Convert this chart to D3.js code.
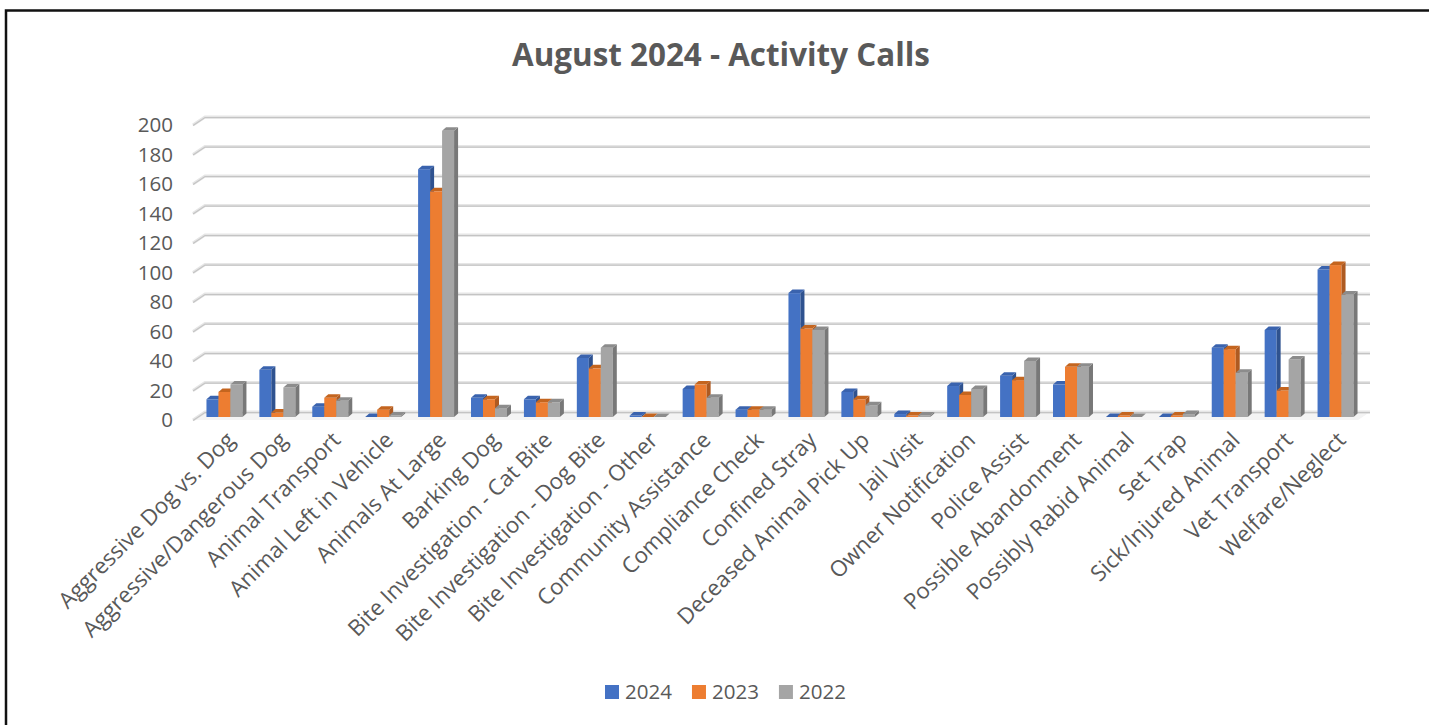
<!DOCTYPE html>
<html><head><meta charset="utf-8">
<script src="https://cdn.jsdelivr.net/npm/d3@7"></script>
<style>
body{margin:0;background:#fff;}
svg{display:block;}
text{font-family:"Open Sans","Noto Sans",sans-serif;fill:#595959;}
</style>
</head><body>
<svg id="c" width="1429" height="725"></svg>
<script>
const titleText = "August 2024 - Activity Calls";
const categories = ["Aggressive Dog vs. Dog","Aggressive/Dangerous Dog","Animal Transport","Animal Left in Vehicle","Animals At Large","Barking Dog","Bite Investigation - Cat Bite","Bite Investigation - Dog Bite","Bite Investigation - Other","Community Assistance","Compliance Check","Confined Stray","Deceased Animal Pick Up","Jail Visit","Owner Notification","Police Assist","Possible Abandonment","Possibly Rabid Animal","Set Trap","Sick/Injured Animal","Vet Transport","Welfare/Neglect"];
const seriesNames = ["2024","2023","2022"];
const values2024 = [12,32,7,0,168,13,12,40,1,19,5,84,17,2,21,28,22,0,0,47,59,100];
const values2023 = [17,3,13,5,153,12,10,33,0,22,5,60,12,1,15,25,34,1,1,46,18,103];
const values2022 = [22,20,11,1,194,6,10,47,0,13,5,59,8,1,19,38,34,0,2,30,39,83];
const tickValues = [0,20,40,60,80,100,120,140,160,180,200];

const seriesValues = [values2024, values2023, values2022];
const front = ["#4472C4","#ED7D31","#A5A5A5"];
const side  = ["#2F528F","#AE5A21","#787878"];
const topc  = ["#3A63AE","#C4651F","#8C8C8C"];

const svg = d3.select("#c");
const W = 1429, H = 725;

function fitSize(txt, weight, target){
  const t = svg.append("text").attr("font-size",100).attr("font-weight",weight).text(txt);
  const w = t.node().getComputedTextLength(); t.remove();
  return 100*target/w;
}
const fsTitle = fitSize(titleText, 700, 418);
const fsTick = fitSize("2024", 400, 47);
const fsCat = fitSize(categories[0], 400, 238);

// frame
svg.append("path").attr("d",`M6,${H} V10.5 H${W}`).attr("fill","none").attr("stroke","#111").attr("stroke-width",2.5);

// title
svg.append("text").attr("x",721).attr("y",66).attr("text-anchor","middle")
  .attr("font-weight",700).attr("font-size",fsTitle).text(titleText);

const y = d3.scaleLinear().domain([0,200]).range([420,125]);
const x0 = d3.scaleBand().domain(categories).range([198,1362]).paddingInner(0.32).paddingOuter(0.16);
const x1 = d3.scaleBand().domain(seriesNames).range([0,x0.bandwidth()]);

const WX0 = 193, WDX = 12, WDY = -8, WX1 = 1370;
// floor
svg.append("path").attr("d",`M${WX0},${y(0)} L${WX0+WDX},${y(0)+WDY} L${WX1},${y(0)+WDY} L${WX1-WDX},${y(0)} Z`).attr("fill","#f4f4f4");
// gridlines
const grid = svg.append("g");
tickValues.forEach(t=>{
  const yy = y(t);
  grid.append("path").attr("d",`M${WX0},${yy} L${WX0+WDX},${yy+WDY} L${WX1},${yy+WDY}`)
    .attr("fill","none").attr("stroke","#e6e6e6").attr("stroke-width",3.2);
  grid.append("path").attr("d",`M${WX0},${yy+0.6} L${WX0+WDX},${yy+WDY+0.6} L${WX1},${yy+WDY+0.6}`)
    .attr("fill","none").attr("stroke","#c4c4c4").attr("stroke-width",1.2);
});
// y tick labels
svg.append("g").selectAll("text").data(tickValues).join("text")
  .attr("x",173).attr("y",d=>y(d)).attr("dy","0.36em").attr("text-anchor","end")
  .attr("font-size",fsTick).text(d=>d);

// bars
const BDY = -3, DX = 4, DY = -3.5;
const bars = svg.append("g");
categories.forEach((c,i)=>{
  seriesNames.forEach((s,k)=>{
    const v = seriesValues[k][i];
    const x = x0(c)+x1(s), w = x1.bandwidth();
    const top = y(v)+BDY, bot = y(0)+BDY;
    const g = bars.append("g");
    if (bot-top>0) g.append("rect").attr("x",x).attr("y",top).attr("width",w).attr("height",bot-top).attr("fill",front[k]);
    g.append("path").attr("d",`M${x+w},${top} L${x+w+DX},${top+DY} L${x+w+DX},${bot+DY} L${x+w},${bot} Z`).attr("fill",side[k]);
    g.append("path").attr("d",`M${x},${top} L${x+DX},${top+DY} L${x+w+DX},${top+DY} L${x+w},${top} Z`).attr("fill",topc[k]);
  });
});

// category labels
svg.append("g").selectAll("text").data(categories).join("text")
  .attr("transform",d=>`translate(${x0(d)+x0.bandwidth()/2+6},${436}) rotate(-45)`)
  .attr("text-anchor","end").attr("dy","0.35em").attr("font-size",fsCat).text(d=>d);

// legend
let lx = 605;
const lg = svg.append("g");
seriesNames.forEach((s,k)=>{
  lg.append("rect").attr("x",lx).attr("y",685).attr("width",14).attr("height",14).attr("fill",front[k]);
  const t = lg.append("text").attr("x",lx+20).attr("y",699).attr("font-size",fsTick).text(s);
  lx += 20 + t.node().getComputedTextLength() + 20;
});
</script>
</body></html>
